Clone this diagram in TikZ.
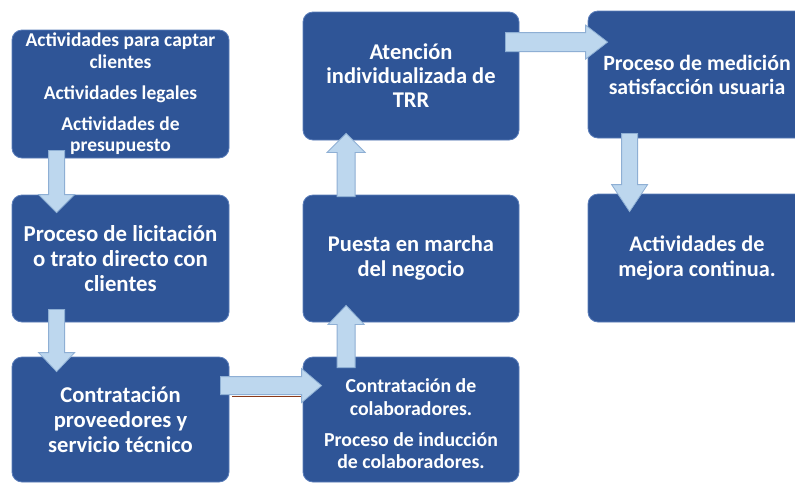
\documentclass[tikz,border=0pt]{standalone}
\usepackage{fontspec}
\setmainfont{Carlito}
\usetikzlibrary{calc}
\definecolor{boxblue}{HTML}{2F5597}
\definecolor{boxedge}{HTML}{5A7DBA}
\definecolor{arrfill}{HTML}{BDD7EE}
\definecolor{arredge}{HTML}{8EAFD4}
\definecolor{brownline}{HTML}{8B3A1A}
\tikzset{
  procbox/.style={draw=boxedge, line width=0.8pt, fill=boxblue, rounded corners=10pt,
    text=white, font=\bfseries, align=center, inner sep=0pt},
  blockarr/.style={draw=arredge, line width=0.8pt, fill=arrfill, line join=miter}
}
\newcommand\blockarrow[5]{% from, to, shaft half width, head half width, head length
  \coordinate (tmpH) at ($(#2)!#5!(#1)$);
  \draw[blockarr] ($(#1)!#3!90:(#2)$) -- ($(tmpH)!#3!90:(#2)$) -- ($(tmpH)!#4!90:(#2)$)
    -- (#2) -- ($(tmpH)!#4!-90:(#2)$) -- ($(tmpH)!#3!-90:(#2)$) -- ($(#1)!#3!-90:(#2)$) -- cycle;
}
\begin{document}
\begin{tikzpicture}[x=1pt,y=-1pt]
\clip (0,0) rectangle (795,483);
\fill[white] (0,0) rectangle (795,483);
% boxes
\node[procbox, minimum width=217pt, minimum height=128pt, font=\bfseries\fontsize{19.5}{21.5}\selectfont] (b1) at (120.5,94)
  {Actividades para captar\\clientes\\[9.5pt]Actividades legales\\[9.5pt]Actividades de\\presupuesto};
\node[procbox, minimum width=217pt, minimum height=127pt, font=\bfseries\fontsize{22.8}{25}\selectfont] (b2) at (120.5,258.5)
  {Proceso de licitación\\o trato directo con\\clientes};
\node[procbox, minimum width=217pt, minimum height=125pt, font=\bfseries\fontsize{22.6}{25}\selectfont] (b3) at (120.5,419.5)
  {Contratación\\proveedores y\\servicio técnico};
\node[procbox, minimum width=216pt, minimum height=125pt, font=\bfseries\fontsize{19.8}{22.5}\selectfont] (b4) at (411,419.5)
  {\rule{0pt}{4pt}\\[-4pt]Contratación de\\colaboradores.\\[8.5pt]Proceso de inducción\\de colaboradores.};
\node[procbox, minimum width=216pt, minimum height=127pt, font=\bfseries\fontsize{22.5}{25}\selectfont] (b5) at (411,258.5)
  {Puesta en marcha\\del negocio};
\node[procbox, minimum width=216pt, minimum height=128pt, font=\bfseries\fontsize{22.5}{24}\selectfont] (b6) at (411,76)
  {Atención\\individualizada de\\TRR};
\node[procbox, minimum width=218pt, minimum height=127pt, font=\bfseries\fontsize{21.8}{24}\selectfont] (b7) at (697,74.5)
  {Proceso de medición\\satisfacción usuaria};
\node[procbox, minimum width=218pt, minimum height=128pt, font=\bfseries\fontsize{22.3}{25}\selectfont] (b8) at (697,258)
  {Actividades de\\mejora continua.};
% arrow end points
\coordinate (a1s) at ($(b1.south west)+(45,-8)$);
\coordinate (a1e) at ($(b2.north west)+(45,18)$);
\coordinate (a2s) at ($(b2.south west)+(45,-13)$);
\coordinate (a2e) at ($(b3.north west)+(45,15)$);
\coordinate (a3s) at ($(b3.north east)+(-9,29)$);
\coordinate (a3e) at ($(b4.north west)+(19,29)$);
\coordinate (a4s) at ($(b4.north west)+(43.5,11)$);
\coordinate (a4e) at ($(b5.south west)+(43.5,-17)$);
\coordinate (a5s) at ($(b5.north west)+(43.5,2)$);
\coordinate (a5e) at ($(b6.south west)+(43.5,-7)$);
\coordinate (a6s) at ($(b6.north east)+(-14,30.5)$);
\coordinate (a6e) at ($(b7.north west)+(20,31.5)$);
\coordinate (a7s) at ($(b7.south west)+(42,-5)$);
\coordinate (a7e) at ($(b8.north west)+(42,18)$);
% brown underline
\coordinate (brA) at ($(b3.north east)+(3,40)$);
\coordinate (brB) at ($(b4.north west)+(-1,40)$);
\draw[brownline, line width=1.3pt] (brA) -- (brB);
% block arrows
\blockarrow{a1s}{a1e}{8pt}{18pt}{18pt}
\blockarrow{a2s}{a2e}{8pt}{18pt}{19pt}
\blockarrow{a3s}{a3e}{9pt}{17pt}{20pt}
\blockarrow{a4s}{a4e}{9pt}{18pt}{19pt}
\blockarrow{a5s}{a5e}{9pt}{19pt}{19pt}
\blockarrow{a6s}{a6e}{9.5pt}{17pt}{22pt}
\blockarrow{a7s}{a7e}{8pt}{18pt}{27pt}
\end{tikzpicture}
\end{document}
